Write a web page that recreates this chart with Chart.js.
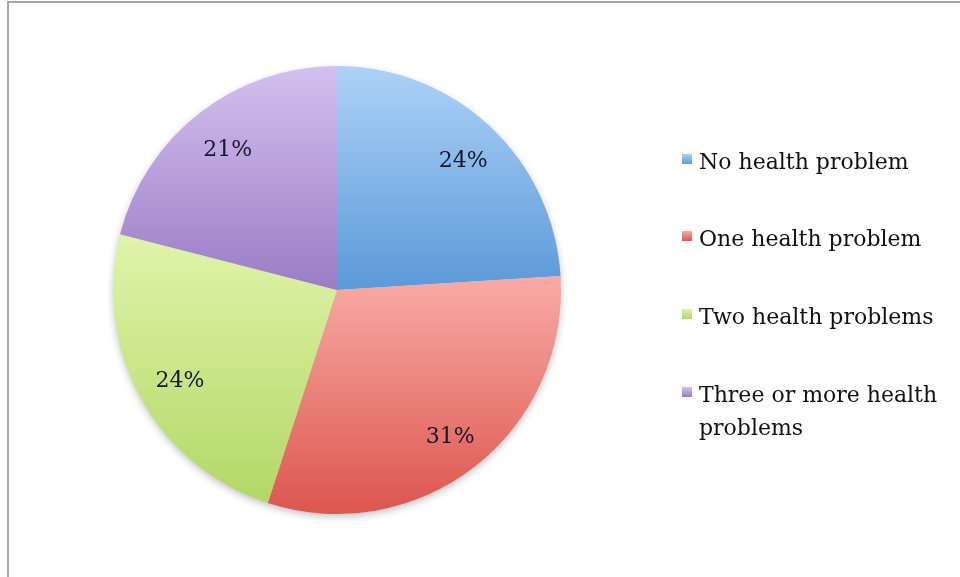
<!DOCTYPE html>
<html><head><meta charset="utf-8">
<script src="https://cdn.jsdelivr.net/npm/chart.js@4/dist/chart.umd.min.js"></script>
<style>
html,body{margin:0;padding:0;background:#fff;}
#wrap{position:relative;width:960px;height:577px;overflow:hidden;background:#fff;}
#frame{position:absolute;left:7px;top:1px;width:970px;height:590px;border-top:2px solid #a8a8a8;border-left:2px solid #a8a8a8;box-sizing:border-box;pointer-events:none;}
#c{position:absolute;left:0;top:0;}
#legend{position:absolute;left:682px;top:0;font-family:"DejaVu Serif",serif;font-size:22px;color:#111;}
.item{position:absolute;left:0;width:272px;display:flex;line-height:33px;}
.sw{flex:0 0 10px;width:10px;height:10px;margin-top:9px;margin-right:7px;}
</style></head>
<body><div id="wrap"><canvas id="c" width="960" height="577"></canvas><div id="legend"></div><div id="frame"></div></div>
<script>
const categories = ["No health problem","One health problem","Two health problems","Three or more health problems"];
const values = [24, 31, 24, 21];
const valueLabels = ["24%","31%","24%","21%"];

const topColors = ["#add2f8","#f9aba5","#e0f4aa","#d4c0ef"];
const bottomColors = ["#5b99d8","#dc564f","#b3d866","#9a7cc4"];

function sliceGradient(c){
  const ch = c.chart, a = ch.chartArea, i = c.dataIndex;
  if(!a) return bottomColors[i];
  const cx=(a.left+a.right)/2, cy=(a.top+a.bottom)/2;
  const r=Math.min(a.right-a.left,a.bottom-a.top)/2;
  const d=c.dataset.data, tot=d.reduce((s,v)=>s+v,0);
  let s=-Math.PI/2;
  for(let j=0;j<i;j++) s+=d[j]/tot*Math.PI*2;
  const e=s+d[i]/tot*Math.PI*2;
  const ys=[cy, cy+r*Math.sin(s), cy+r*Math.sin(e)];
  for(const ang of [-Math.PI/2, Math.PI/2, 3*Math.PI/2]) if(ang>s && ang<e) ys.push(cy+r*Math.sin(ang));
  const g=ch.ctx.createLinearGradient(0,Math.min(...ys),0,Math.max(...ys));
  g.addColorStop(0,topColors[i]); g.addColorStop(1,bottomColors[i]);
  return g;
}

const shadowPlugin = {
  id:'pieShadow',
  beforeDatasetsDraw(chart){
    const a=chart.chartArea, ctx=chart.ctx;
    const cx=(a.left+a.right)/2, cy=(a.top+a.bottom)/2;
    const r=Math.min(a.right-a.left,a.bottom-a.top)/2;
    ctx.save();
    ctx.shadowColor='rgba(0,0,0,0.28)'; ctx.shadowBlur=8; ctx.shadowOffsetY=3;
    ctx.beginPath(); ctx.arc(cx,cy,r-1,0,Math.PI*2); ctx.fillStyle='#cccccc'; ctx.fill();
    ctx.restore();
  }
};

const labelPlugin = {
  id:'sliceLabels',
  afterDatasetsDraw(chart){
    const meta=chart.getDatasetMeta(0), ctx=chart.ctx;
    ctx.save();
    ctx.font='22px "DejaVu Serif", serif';
    ctx.fillStyle='#15172a';
    ctx.textAlign='center'; ctx.textBaseline='middle';
    meta.data.forEach((arc,i)=>{
      const mid=(arc.startAngle+arc.endAngle)/2;
      const rr=arc.outerRadius*0.81;
      ctx.fillText(valueLabels[i], arc.x+rr*Math.cos(mid)+2, arc.y+rr*Math.sin(mid)+4);
    });
    ctx.restore();
  }
};

new Chart(document.getElementById('c'), {
  type:'pie',
  data:{labels:categories, datasets:[{data:values, backgroundColor:sliceGradient, borderWidth:0, hoverOffset:0}]},
  options:{
    responsive:false, animation:false, events:[],
    layout:{padding:{left:113,right:399,top:66,bottom:63}},
    plugins:{legend:{display:false}, tooltip:{enabled:false}}
  },
  plugins:[shadowPlugin,labelPlugin]
});

// HTML legend built from categories
const leg=document.getElementById('legend');
categories.forEach((name,i)=>{
  const it=document.createElement('div'); it.className='item';
  it.style.top=(161-16.5+i*77.7)+'px';
  const sw=document.createElement('div'); sw.className='sw';
  sw.style.background='linear-gradient('+topColors[i]+','+bottomColors[i]+')';
  const tx=document.createElement('div'); tx.textContent=name;
  it.appendChild(sw); it.appendChild(tx); leg.appendChild(it);
});
</script></body></html>
